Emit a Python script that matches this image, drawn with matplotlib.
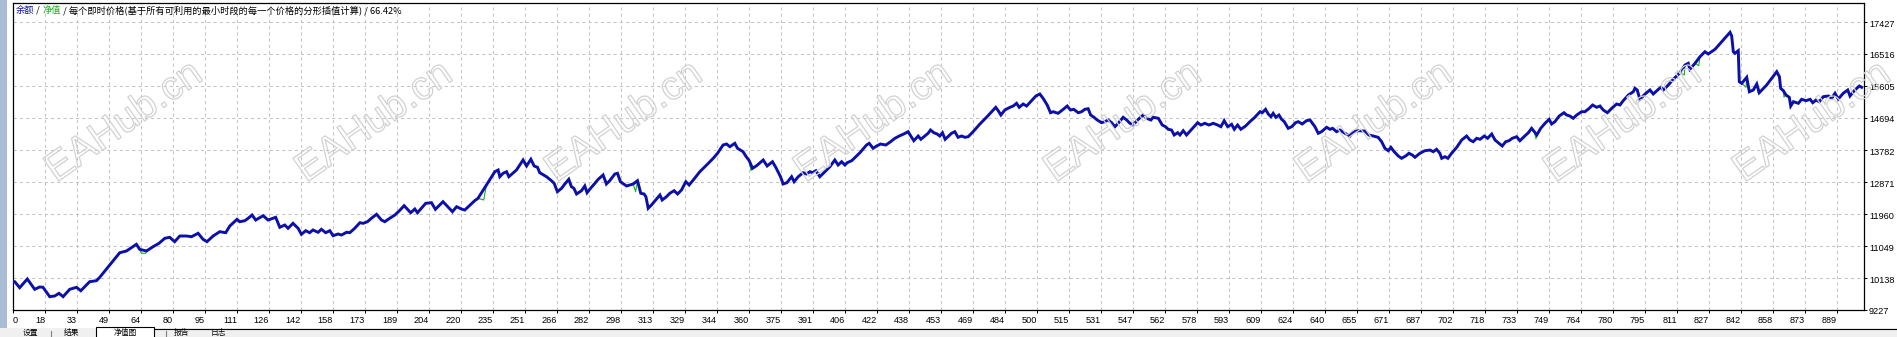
import matplotlib
matplotlib.use("Agg")
import matplotlib.pyplot as plt
import matplotlib.patheffects as pe
import matplotlib.transforms as mtransforms
from matplotlib.offsetbox import TextArea, HPacker, AnchoredOffsetbox
from matplotlib.patches import Rectangle
from matplotlib.lines import Line2D

# ---------------- data ----------------
balance_idx = [
    2.4, 3.3, 5.7, 9.4, 13.0, 15.4, 17.0, 20.3, 22.7, 24.8, 26.8, 30.0, 33.3, 35.4, 39.7, 43.0, 44.6,
    51.0, 54.3, 57.6, 60.0, 62.4, 64.0, 67.3, 70.5, 73.4, 76.2, 78.6, 81.0, 83.5, 86.7, 89.2, 92.4,
    94.8, 96.7, 99.7, 102.9, 105.8, 107.8, 111.3, 112.6, 115.1, 116.7, 118.6, 120.4, 124.0, 126.4,
    130.1, 132.1, 134.5, 136.1, 138.5, 141.0, 142.6, 144.7, 146.6, 148.2, 150.7, 152.3, 154.4, 156.4,
    158.0, 160.4, 162.1, 164.5, 166.1, 168.5, 171.0, 172.6, 174.7, 176.6, 179.1, 181.5, 183.1, 185.5,
    188.0, 190.1,
    192.5, 195.7, 197.7, 199.0, 203.0, 205.8, 207.7, 211.4, 216.0, 218.0, 220.7, 222.0, 226.8, 228.4,
    232.5, 235.0, 236.6, 238.2, 239.0, 240.6, 242.3, 243.4, 247.1, 248.7, 250.3, 252.0, 254.1, 255.7,
    257.3, 258.4, 261.7, 264.1, 265.4, 267.0, 269.0, 270.6, 272.5, 273.8, 275.0, 276.3, 278.7, 280.3,
    281.4, 283.1, 285.2, 286.8, 289.2, 290.8, 292.4, 294.9, 296.2, 297.6, 300.6, 303.8, 305.9, 307.5,
    309.1, 310.0, 311.1, 312.7, 316.8, 317.9, 320.0, 321.6, 323.7, 325.4, 327.3, 329.4, 331.0, 333.0,
    336.2, 339.5, 342.7, 344.8, 347.5, 349.2, 350.8, 353.2, 354.5, 357.2, 358.5, 360.2, 361.8, 363.8,
    367.0,
    368.9, 371.5, 373.1, 375.4, 376.7, 378.5, 380.8, 382.0, 384.0, 386.4, 388.0, 389.7, 390.9, 392.6,
    394.5, 397.0, 399.4, 401.8, 403.4, 405.1, 406.7, 407.8, 410.0, 414.0, 417.2, 418.5, 420.4, 422.1,
    424.0, 426.6, 428.9, 431.0, 433.1, 435.3, 437.4, 439.1, 440.2, 442.3, 443.6, 445.5, 447.1, 448.3,
    449.9, 451.5, 452.8, 454.1, 455.4, 458.5, 460.1, 461.7, 463.4, 465.0, 466.6, 469.0, 472.3, 475.5,
    478.0, 480.0, 481.2, 482.5, 484.4, 486.9, 488.5, 490.1, 491.4, 493.3, 495.0, 497.4, 499.5, 501.4,
    503.0, 505.0, 506.6, 507.9, 510.3, 512.8, 514.7, 516.3, 517.9, 520.1, 521.7, 523.3, 524.9, 526.1,
    527.7, 529.3, 531.4, 533.0, 534.6, 536.3, 537.9, 539.5, 541.9, 543.6, 545.2, 546.8, 548.9,
    551.6, 553.3, 555.4, 556.5, 559.0, 560.9, 562.5, 563.8, 565.4, 566.7, 568.4, 569.5, 571.1, 572.7,
    575.2, 578.1, 579.7, 581.6, 583.6, 585.7, 587.8, 589.4, 591.0, 592.7, 594.6, 595.9, 597.5, 599.1,
    601.4, 603.5, 605.9, 608.4, 609.5, 611.1, 612.4, 613.7, 614.8, 616.1, 617.6, 618.9, 620.2, 622.1,
    623.8, 625.7, 627.0, 628.9, 631.0, 632.7, 635.1, 636.7, 638.3, 640.8, 642.4, 643.7, 645.6, 647.2,
    649.7, 652.1, 653.7, 656.1, 659.4, 661.3, 663.4, 665.8, 667.5, 669.1, 670.7, 672.0, 673.6, 675.6,
    677.2, 679.2, 680.8, 682.4, 683.7, 686.1, 688.5, 691.0, 692.6, 694.2, 695.8, 696.7, 698.3, 699.7,
    701.5, 704.0, 706.4, 708.8, 710.4, 712.0, 713.7, 715.3, 717.4, 719.0, 721.0, 722.6, 724.2, 726.1,
    727.8, 729.4, 731.0, 732.3,
    733.1, 734.7, 736.7, 738.8, 740.4, 741.7, 742.9, 744.8, 746.9, 748.9, 750.1, 751.7, 753.8, 756.1,
    757.4, 759.0, 760.6, 762.3, 764.7, 766.3, 768.4, 770.0, 772.0, 773.6, 775.2, 777.2, 779.3, 781.7,
    783.3, 784.9, 787.4, 789.8, 790.6, 791.7, 793.0, 795.5, 797.9, 799.5, 802.0, 803.2, 804.4, 806.8,
    809.2, 812.5, 814.9, 816.5, 817.3, 819.8, 822.2, 824.6, 826.2, 829.5, 836.8, 837.6, 838.4, 839.2,
    840.8, 841.3, 842.5, 844.9, 846.2, 848.1, 849.8, 851.0, 854.6, 859.5, 860.8, 861.4, 862.7, 864.0,
    865.6, 866.3, 867.6, 870.0, 871.6, 873.7, 875.7, 877.0, 878.6, 880.2, 882.1, 884.6, 886.2, 887.8,
    889.4, 891.8, 894.0, 895.1, 897.5, 899.6, 900.8,
]
balance_val = [
    10033, 10033, 9862, 10110, 9816, 9882, 9875, 9606, 9626, 9702, 9606, 9816, 9873, 9776, 10033, 10061, 10158,
    10622, 10858, 10907, 11001, 11097, 10955, 10907, 11029, 11126, 11268, 11297, 11172, 11334, 11334, 11314, 11411,
    11240, 11172, 11334, 11456, 11428, 11618, 11809, 11741, 11769, 11838, 11932, 11789, 11912, 11789,
    11866, 11581, 11647, 11553, 11695, 11553, 11382, 11485, 11428, 11505, 11439, 11525, 11428, 11485,
    11342, 11391, 11362, 11439, 11428, 11553, 11712, 11695, 11741, 11838, 11952, 11789, 11741, 11838,
    11932, 12046,
    12197, 11997, 12103, 11997, 12265, 12282, 12094, 12311, 12026, 12168, 12094, 12074, 12339, 12407,
    12786, 13022, 13165, 13213, 13022, 13119, 13165, 13022, 13213, 13355, 13498, 13327, 13518, 13327,
    13290, 13136, 13022, 12908, 12834, 12595, 12692, 12815, 12948, 12738, 12692, 12530, 12624, 12758,
    12567, 12692, 12834, 12948, 13071, 12815, 12908, 13099, 13119, 12880, 12758, 12815, 12908, 12550,
    12530, 12453, 12123, 12217, 12501, 12359, 12453, 12550, 12624, 12530, 12644, 12880, 12786, 12928,
    13165, 13355, 13546, 13689, 13925, 13953, 13876, 13973, 13831, 13734, 13612, 13478, 13261, 13336,
    13498,
    13327, 13449, 13290, 13022, 12815, 12851, 13022, 12880, 13022, 13136, 13099, 13165, 13136, 13193,
    13022, 13165, 13307, 13498, 13355, 13449, 13355, 13421, 13478, 13706, 13925, 13973, 13831, 13896,
    13953, 13925, 14019, 14116, 14181, 14238, 14304, 14144, 14047, 14181, 14087, 14181, 14258, 14352,
    14275, 14238, 14181, 14275, 14087, 14258, 14304, 14144, 14181, 14144, 14161, 14304, 14523, 14714,
    14873, 14998, 14901, 14779, 14921, 14998, 15035, 15112, 14998, 15092, 15035, 15186, 15320, 15377,
    15254, 15064, 14844, 14873, 14827, 14941, 15035, 14921, 14941, 14844, 14873, 14941, 14958, 14779,
    14714, 14637, 14560, 14589, 14637, 14560, 14446, 14543, 14714, 14637, 14543, 14494, 14637,
    14779, 14685, 14637, 14714, 14685, 14494, 14446, 14372, 14352, 14210, 14275, 14210, 14332, 14210,
    14372, 14560, 14494, 14543, 14494, 14543, 14494, 14446, 14617, 14446, 14514, 14372, 14494, 14372,
    14466, 14589, 14714, 14873, 14844, 14941, 14807, 14731, 14827, 14714, 14779, 14657, 14589, 14400,
    14446, 14560, 14589, 14523, 14617, 14637, 14446, 14258, 14304, 14429, 14372, 14400, 14304, 14352,
    14258, 14181, 14304, 14332, 14323, 14210, 14181, 14144, 14019, 13831, 13762, 13859, 13734, 13612,
    13546, 13612, 13689, 13640, 13575, 13689, 13762, 13781, 13734, 13802, 13689, 13546, 13592, 13546,
    13689, 13859, 14067, 14181, 14067, 14019, 14116, 14087, 14181, 14116, 14238, 14067, 13990, 13896,
    14019, 14047, 14116, 14144,
    14161, 14047, 14161, 14275, 14400, 14304, 14210, 14400, 14543, 14656, 14523, 14589, 14750, 14844,
    14779, 14750, 14685, 14779, 14873, 14873, 14970, 15064, 14998, 15035, 14921, 14844, 14970, 15092,
    15064, 15186, 15348, 15442, 15539, 15491, 15226, 15377, 15491, 15377, 15511, 15568, 15491, 15633,
    15795, 15983, 16202, 16251, 16080, 16251, 16439, 16581, 16516, 16649, 17133, 17028, 16581, 16536,
    16610, 15727, 15681, 15852, 15442, 15491, 15662, 15414, 15633, 16012, 15869, 15539, 15471, 15348,
    15283, 15035, 15158, 15112, 15226, 15186, 15226, 15129, 15206, 15158, 15300, 15320, 15254, 15397,
    15234, 15397, 15491, 15320, 15491, 15605, 15568,
]
# equity dips below balance (floating losses), merged into the balance path
equity_dip_idx = [64.8, 67.0, 231.2, 305.0, 361.0, 742.5, 814.6, 821.6, 844.6, 850.4, 863.0]
equity_dip_val = [10842, 10842, 12359, 12595, 13200, 14100, 15918, 16183, 15568, 15414, 15290]

x_labels = ["0", "18", "33", "49", "64", "80", "95", "111", "126", "142", "158", "173", "189", "204",
            "220", "235", "251", "266", "282", "298", "313", "329", "344", "360", "375", "391", "406",
            "422", "438", "453", "469", "484", "500", "515", "531", "547", "562", "578", "593", "609",
            "624", "640", "655", "671", "687", "702", "718", "733", "749", "764", "780", "795", "811",
            "827", "842", "858", "873", "889"]
y_ticks = [9227, 10138, 11049, 11960, 12871, 13782, 14694, 15605, 16516, 17427]

header_balance = "余额"
header_equity = "净值"
header_rest = " / 每个即时价格(基于所有可利用的最小时段的每一个价格的分形插值计算) / 66.42%"
tab_names = ["设置", "结果", "净值图", "报告", "日志"]
watermark = "EAHub.cn"

# ---------------- style ----------------
BLUE = "#0c10a8"
GREEN = "#14b414"
GRID = "#c4c4c4"
X_START, X_STEP = 2.45, 15.55
XLIM = (2.45, 901.9)
YLIM = (9227, 17968)

W, H = 1897, 337
fig = plt.figure(figsize=(W / 100, H / 100), dpi=100)
fig.patch.set_facecolor("white")


def rect_px(x0, y0, x1, y1):
    return [x0 / W, 1 - y1 / H, (x1 - x0) / W, (y1 - y0) / H]


ax = fig.add_axes(rect_px(13, 3, 1864, 310))
ax.set_facecolor("white")
ax.set_xlim(*XLIM)
ax.set_ylim(*YLIM)

xt = [X_START + k * X_STEP for k in range(len(x_labels))]
for p in xt[1:]:
    ax.axvline(p, color=GRID, lw=0.75, ls=(0, (3, 3)), zorder=0)
for v in y_ticks[1:]:
    ax.axhline(v, color=GRID, lw=0.75, ls=(0, (3, 3)), zorder=0)

# equity (green) = balance path with the floating dips inserted
eq = sorted(zip(balance_idx + equity_dip_idx, balance_val + equity_dip_val))
ax.plot([a for a, b in eq], [b for a, b in eq], color=GREEN, lw=0.8, zorder=2)
ax.plot(balance_idx, balance_val, color=BLUE, lw=2.1, zorder=3, solid_joinstyle="miter")

for s in ax.spines.values():
    s.set_color("black")
    s.set_linewidth(0.9)

tick_font = dict(family="Liberation Sans", size=6.6)
ax.set_xticks(xt)
ax.set_xticklabels(x_labels, **tick_font)
for i, lbl in enumerate(ax.get_xticklabels()):
    lbl.set_ha("left" if i == 0 else "right")
ax.tick_params(axis="x", direction="out", length=2, width=0.7, pad=2, colors="black")

ax.yaxis.tick_right()
ax.set_yticks(y_ticks)
ax.set_yticklabels([])
ax.tick_params(axis="y", direction="out", length=2, width=0.7, colors="black")
ylab_tr = ax.get_yaxis_transform() + mtransforms.ScaledTranslation(5 / 100, -2 / 100, fig.dpi_scale_trans)
for v in y_ticks:
    ax.text(1.0, v, str(v), transform=ylab_tr, ha="left", va="center", clip_on=False,
            color="black", **tick_font)

# header
cjk = ["Noto Sans CJK SC", "DejaVu Sans"]
hp = dict(family=cjk, size=6.65)
boxes = [TextArea(header_balance, textprops=dict(color=BLUE, **hp)),
         TextArea(" / ", textprops=dict(color="black", **hp)),
         TextArea(header_equity, textprops=dict(color=GREEN, **hp)),
         TextArea(header_rest, textprops=dict(color="black", **hp))]
pack = HPacker(children=boxes, align="baseline", pad=0, sep=0)
anch = AnchoredOffsetbox(loc="upper left", child=pack, pad=0, borderpad=0, frameon=False,
                         bbox_to_anchor=(16 / W, 1 - 5 / H), bbox_transform=fig.transFigure)
fig.add_artist(anch)

# window chrome: left strip and bottom tab bar
fig.add_artist(Rectangle((0, 0), 7 / W, 1, transform=fig.transFigure,
                         facecolor="#a9bdd5", edgecolor="none", zorder=0))
fig.add_artist(Rectangle((0, 0), 1, 9.5 / H, transform=fig.transFigure,
                         facecolor="#f0f0f0", edgecolor="none", zorder=1))
fig.add_artist(Rectangle((96 / W, -5 / H), 58 / W, 15 / H, transform=fig.transFigure,
                         facecolor="white", edgecolor="black", lw=0.8, zorder=2))
fig.add_artist(Line2D([154 / W, 1], [1 - 328.5 / H] * 2, transform=fig.transFigure,
                      color="black", lw=0.8, zorder=2))
tab_x = [30, 72, 125, 181, 218]
for name, tx in zip(tab_names, tab_x):
    fig.text(tx / W, 1 - 329 / H, name, ha="center", va="top", family=cjk, size=5.6,
             color="black", zorder=3)
for sx in [51, 166]:
    fig.add_artist(Line2D([sx / W] * 2, [0, 1 - 331 / H], transform=fig.transFigure,
                          color="#808080", lw=0.8, zorder=3))

# watermarks (one row across the plot; the last one kept inside the picture)
wm_x = [124, 374, 624, 873, 1123, 1374, 1623, 1812]
for cx in wm_x:
    fig.text(cx / W, 1 - 122 / H, watermark, rotation=35, rotation_mode="anchor",
             ha="center", va="center", family="Liberation Sans", size=29,
             color=(1, 1, 1, 0), zorder=10,
             path_effects=[pe.Stroke(linewidth=0.9, foreground="#d2d2d2")])

fig.savefig("out.png", dpi=100)
